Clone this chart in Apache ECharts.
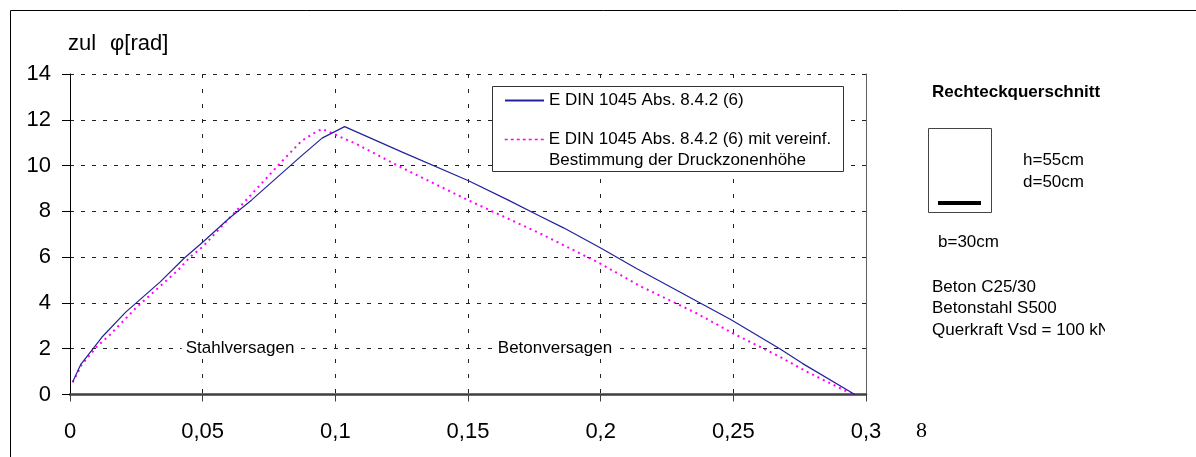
<!DOCTYPE html>
<html>
<head>
<meta charset="utf-8">
<script src="https://cdn.jsdelivr.net/npm/echarts@6.0.0/dist/echarts.min.js"></script>
<style>
  html, body { margin: 0; padding: 0; background: #fff; }
  #chart { width: 1196px; height: 457px; }
</style>
</head>
<body>
<div id="chart"></div>
<script>
// Allowable rotation zul φ [rad] over the reinforcement ratio
const seriesNames = [
  'E DIN 1045 Abs. 8.4.2 (6)',
  'E DIN 1045 Abs. 8.4.2 (6) mit vereinf.'
];
const legendExtraLine = 'Bestimmung der Druckzonenhöhe';

// exact method
const exactX = [0.001, 0.004, 0.009, 0.012, 0.021, 0.034, 0.043, 0.050, 0.060, 0.0685,
  0.087, 0.095, 0.1035, 0.125, 0.150, 0.165, 0.177, 0.186, 0.200, 0.2135,
  0.2375, 0.249, 0.2675, 0.276, 0.2958];
const exactY = [0.55, 1.3, 2.05, 2.5, 3.6, 4.92, 5.95, 6.65, 7.7, 8.5,
  10.4, 11.2, 11.7, 10.6, 9.35, 8.5, 7.8, 7.28, 6.4, 5.5,
  4.0, 3.28, 2.0, 1.36, 0];

// simplified compression zone height
const simpleX = [0.001, 0.0044, 0.010, 0.015, 0.025, 0.0327, 0.0408, 0.0452, 0.050, 0.060,
  0.0647, 0.080, 0.0873, 0.0917, 0.095, 0.0992, 0.103, 0.108, 0.1243, 0.150,
  0.1771, 0.1997, 0.2148, 0.2361, 0.2499, 0.2675, 0.2776, 0.2951];
const simpleY = [0.53, 1.3, 2.08, 2.6, 3.8, 4.6, 5.44, 6.0, 6.45, 7.7,
  8.28, 10.2, 11.08, 11.4, 11.6, 11.4, 11.19, 10.94, 9.95, 8.49,
  7.04, 5.73, 4.74, 3.55, 2.67, 1.65, 1.0, 0];

const xTickLabels = ['0', '0,05', '0,1', '0,15', '0,2', '0,25', '0,3'];
const yTickValues = [0, 2, 4, 6, 8, 10, 12, 14];

const FONT = '"Liberation Sans", Arial, sans-serif';
const pairs = (xs, ys) => xs.map((x, i) => [x, ys[i]]);

function txt(x, y, text, extra) {
  return {
    type: 'text', x: x, y: y, z: 20,
    style: Object.assign({
      text: text, fill: '#000', fontSize: 17, fontFamily: FONT,
      align: 'left', verticalAlign: 'middle'
    }, extra || {})
  };
}

const legendBase = {
  left: 504, padding: 0, z: 30,
  itemWidth: 39, itemHeight: 14, selectedMode: false,
  itemStyle: { opacity: 0 },
  textStyle: { fontSize: 17, fontFamily: FONT, color: '#000' }
};

const chart = echarts.init(document.getElementById('chart'), null, { renderer: 'canvas' });

chart.setOption({
  backgroundColor: '#fff',
  animation: false,
  grid: { left: 70, right: 330, top: 74, bottom: 62.5, containLabel: false },
  xAxis: {
    type: 'value', min: 0, max: 0.3, interval: 0.05,
    axisLine: { show: true, onZero: false, lineStyle: { color: '#404040', width: 2.5 } },
    axisTick: { show: true, length: 7, lineStyle: { color: '#404040', width: 1 } },
    axisLabel: {
      fontSize: 22, fontFamily: FONT, color: '#000', margin: 26,
      formatter: v => xTickLabels[Math.round(v / 0.05)]
    },
    splitLine: { show: true, lineStyle: { color: '#222', width: 1, type: [4, 11] } }
  },
  yAxis: [{
    type: 'value', min: yTickValues[0], max: yTickValues[yTickValues.length - 1], interval: 2,
    axisLine: { show: true, lineStyle: { color: '#000', width: 1 } },
    axisTick: { show: true, length: 8, lineStyle: { color: '#000', width: 1 } },
    axisLabel: { fontSize: 22, fontFamily: FONT, color: '#000', margin: 19 },
    splitLine: { show: true, lineStyle: { color: '#222', width: 1, type: [4, 7] } }
  }, {
    type: 'value', position: 'right', min: 0, max: 14, interval: 2,
    axisLine: { show: true, lineStyle: { color: '#606060', width: 1 } },
    axisTick: { show: false }, axisLabel: { show: false }, splitLine: { show: false }
  }],
  legend: [
    Object.assign({}, legendBase, { data: [seriesNames[0]], top: 92 }),
    Object.assign({}, legendBase, {
      data: [seriesNames[1]], top: 131,
      lineStyle: { width: 1.5, type: [3, 3] }
    })
  ],
  series: [{
    name: seriesNames[0], type: 'line', z: 4,
    data: pairs(exactX, exactY),
    symbol: 'none', showSymbol: false,
    lineStyle: { color: '#22229c', width: 1.2 },
    itemStyle: { color: '#22229c' }
  }, {
    name: seriesNames[1], type: 'line', z: 3,
    data: pairs(simpleX, simpleY),
    symbol: 'none', showSymbol: false,
    lineStyle: { color: '#ff00ff', width: 2, type: [2, 4] },
    itemStyle: { color: '#ff00ff' }
  }],
  graphic: [
    // outer frame
    { type: 'polyline', z: 20, shape: { points: [[10.5, 457], [10.5, 10.5], [1196, 10.5]] },
      style: { stroke: '#000', lineWidth: 1, fill: null } },
    // axis title
    txt(68, 44, 'zul', { fontSize: 22 }),
    txt(110, 44, 'φ[rad]', { fontSize: 22 }),
    txt(916, 431, '8', { fontSize: 22, fontFamily: '"Liberation Serif", "Times New Roman", serif' }),
    // legend frame
    { type: 'rect', z: 15, shape: { x: 492.5, y: 86.5, width: 351, height: 85 },
      style: { fill: '#fff', stroke: '#333', lineWidth: 1 } },
    txt(549, 160, legendExtraLine),
    // region annotations
    txt(240, 348, 'Stahlversagen', { align: 'center', backgroundColor: '#fff', padding: [2, 4] }),
    txt(555, 348, 'Betonversagen', { align: 'center', backgroundColor: '#fff', padding: [2, 4] }),
    // cross-section sketch
    txt(932, 92, 'Rechteckquerschnitt', { fontWeight: 'bold' }),
    { type: 'rect', z: 20, shape: { x: 928.5, y: 128.5, width: 63, height: 84 },
      style: { fill: null, stroke: '#444', lineWidth: 1 } },
    { type: 'rect', z: 20, shape: { x: 938, y: 201, width: 43, height: 4 },
      style: { fill: '#000' } },
    txt(1023, 160, 'h=55cm'),
    txt(1023, 182, 'd=50cm'),
    txt(938, 242, 'b=30cm'),
    txt(932, 287, 'Beton C25/30'),
    txt(932, 308, 'Betonstahl S500'),
    txt(932, 330, 'Querkraft Vsd = 100 kN'),
    { type: 'rect', z: 25, shape: { x: 1105, y: 318, width: 91, height: 24 },
      style: { fill: '#fff' } }
  ]
});
</script>
</body>
</html>
